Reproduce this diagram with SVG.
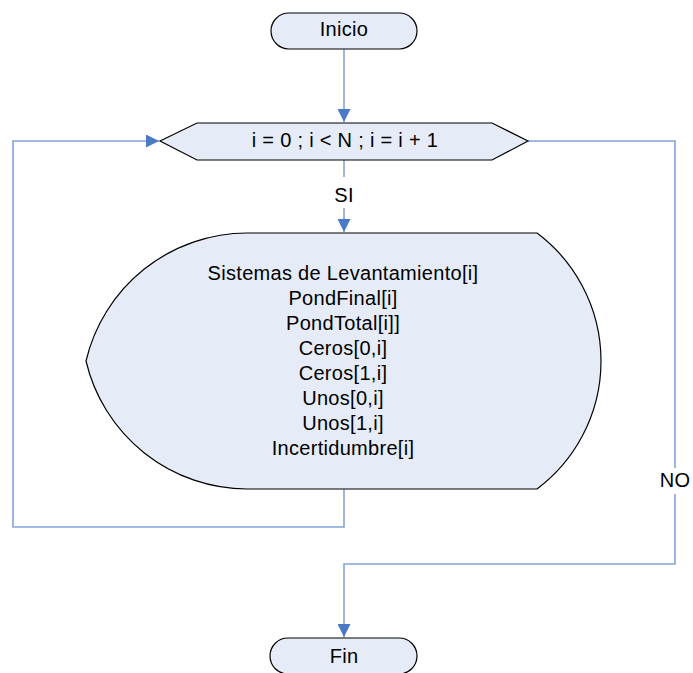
<svg xmlns="http://www.w3.org/2000/svg" width="693" height="673" viewBox="0 0 693 673">
<style>
.shape{fill:#E6ECF7;stroke:#000;stroke-width:1.2}
.conn{fill:none;stroke:#84A4D8;stroke-width:1.6}
.t{font-family:"Liberation Sans",Arial,sans-serif;font-size:20px;letter-spacing:0.3px;fill:#000;text-anchor:middle}
</style>
<defs>
<marker id="arr" viewBox="0 0 13 13" refX="13" refY="6.5" markerWidth="13" markerHeight="13" markerUnits="userSpaceOnUse" orient="auto">
<path d="M0,0 L13,6.5 L0,13 z" fill="#4A7AC6"/>
</marker>
</defs>
<rect width="693" height="673" fill="#fff"/>
<g id="connectors">
<path class="conn" d="M344,49 L344,122" marker-end="url(#arr)"/>
<path class="conn" d="M344,160 L344,177"/>
<path class="conn" d="M344,208 L344,232" marker-end="url(#arr)"/>
<path class="conn" d="M528,141 L675,141 L675,468"/>
<path class="conn" d="M675,494 L675,564 L344,564 L344,637" marker-end="url(#arr)"/>
<path class="conn" d="M344,489 L344,527 L13,527 L13,141 L159,141" marker-end="url(#arr)"/>
<text class="t" x="344" y="202">SI</text>
<text class="t" x="675" y="487">NO</text>
</g>
<g id="inicio">
<rect class="shape" x="271" y="13" width="146" height="36" rx="18"/>
<text class="t" x="344" y="36">Inicio</text>
</g>
<g id="loop">
<polygon class="shape" points="160,141 197,123 492,123 528,141 492,160 197,160"/>
<text class="t" x="345" y="147">i = 0 ; i &lt; N ; i = i + 1</text>
</g>
<g id="display">
<path class="shape" d="M247,233 L537,233 A160,160 0 0 1 537,489 L247,489 A166,166 0 0 1 86,361 A166,166 0 0 1 247,233 Z"/>
<text class="t" x="343" y="280">Sistemas de Levantamiento[i]</text>
<text class="t" x="343" y="305">PondFinal[i]</text>
<text class="t" x="343" y="330">PondTotal[i]]</text>
<text class="t" x="343" y="355">Ceros[0,i]</text>
<text class="t" x="343" y="380">Ceros[1,i]</text>
<text class="t" x="343" y="405">Unos[0,i]</text>
<text class="t" x="343" y="430">Unos[1,i]</text>
<text class="t" x="343" y="455">Incertidumbre[i]</text>
</g>
<g id="fin">
<rect class="shape" x="270" y="638" width="147" height="36" rx="18"/>
<text class="t" x="344" y="663">Fin</text>
</g>
</svg>
